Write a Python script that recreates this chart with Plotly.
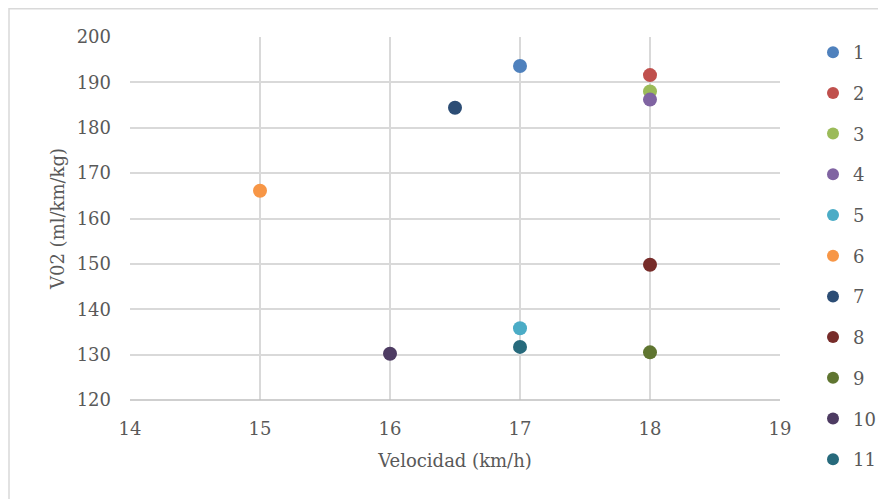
import plotly.graph_objects as go

names = ["1", "2", "3", "4", "5", "6", "7", "8", "9", "10", "11"]
velocidad = [17, 18, 18, 18, 17, 15, 16.5, 18, 18, 16, 17]
vo2 = [193.6, 191.6, 188.0, 186.2, 135.8, 166.1, 184.4, 149.8, 130.5, 130.2, 131.7]
colors = ["#4F81BD", "#C0504D", "#9BBB59", "#8064A2", "#4BACC6", "#F79646",
          "#2C4D75", "#772C2A", "#5F7530", "#4D3B62", "#276A7C"]
x_ticks = [14, 15, 16, 17, 18, 19]
y_ticks = [120, 130, 140, 150, 160, 170, 180, 190, 200]

FONT = "DejaVu Serif"
FS = 18
TXT = "#595959"

fig = go.Figure()
for n, xv, yv, c in zip(names, velocidad, vo2, colors):
    fig.add_trace(go.Scatter(x=[xv], y=[yv], mode="markers", name=n, legendgroup=n,
                             marker=dict(size=14, color=c)))

# page body adds an 8px offset; compensate so the figure fits the 886x499 view
OFF = 8
W, H = 886 - OFF, 499 - OFF
L, T = 130 - OFF, 37 - OFF
pw, ph = 650, 363
R, B = W - L - pw, H - T - ph

def px_x(X):
    return (X - OFF - L) / pw

def px_y(Y):
    return 1 - (Y - OFF - T) / ph

fig.update_layout(
    width=W, height=H,
    margin=dict(l=L, r=R, t=T, b=B, autoexpand=False),
    paper_bgcolor="white", plot_bgcolor="white",
    font=dict(family=FONT, size=FS, color=TXT),
    showlegend=True,
    legend=dict(x=px_x(813), y=px_y(34), xanchor="left", yanchor="top",
                font=dict(family=FONT, size=FS, color=TXT),
                tracegroupgap=14.3, itemsizing="constant", maxheight=H,
                bgcolor="rgba(0,0,0,0)"),
    xaxis=dict(range=[14, 19], tickvals=x_ticks, ticktext=[str(v) for v in x_ticks],
               showgrid=True, gridcolor="#D9D9D9", gridwidth=1.5,
               zeroline=False, showline=False, ticks="", ticklabelstandoff=16,
               tickfont=dict(family=FONT, size=FS, color=TXT),
               title=dict(text="Velocidad (km/h)", font=dict(family=FONT, size=FS, color=TXT), standoff=16)),
    yaxis=dict(range=[120, 200], tickvals=y_ticks, ticktext=[str(v) for v in y_ticks],
               showgrid=True, gridcolor="#D9D9D9", gridwidth=1.5,
               zeroline=False, showline=False, ticks="", ticklabelstandoff=18,
               tickfont=dict(family=FONT, size=FS, color=TXT),
               title=dict(text="V02 (ml/km/kg)", font=dict(family=FONT, size=FS, color=TXT), standoff=7)),
)

# bottom axis line (slightly darker)
fig.add_shape(type="line", xref="paper", yref="paper", x0=0, x1=1, y0=0, y1=0,
              line=dict(color="#BFBFBF", width=1.5), layer="above")
# outer chart border (right and bottom edges fall outside the view)
fig.add_shape(type="rect", xref="paper", yref="paper",
              x0=px_x(9), x1=px_x(892), y0=px_y(505), y1=px_y(8.8),
              line=dict(color="#D9D9D9", width=1.5), layer="below")

fig.write_html("out.html")
